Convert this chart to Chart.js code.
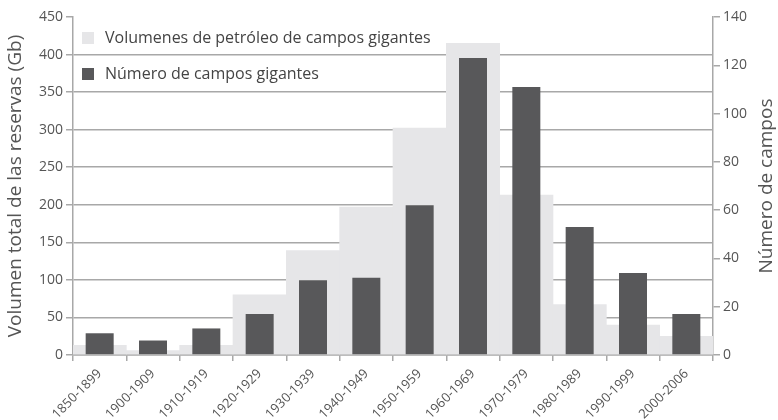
<!DOCTYPE html>
<html>
<head>
<meta charset="utf-8">
<script src="https://cdn.jsdelivr.net/npm/chart.js@4/dist/chart.umd.min.js"></script>
<style>
  body { margin: 0; background: #fff; }
  #wrap { position: relative; width: 778px; height: 420px; }
  #legend { position: absolute; left: 82px; top: 26px; font-family: "Open Sans", sans-serif; font-size: 16px; color: #444; }
  #legend div { height: 36px; line-height: 22px; }
  #legend span.box { display: inline-block; width: 12px; height: 12px; margin-right: 11px; vertical-align: -1px; }
</style>
</head>
<body>
<div id="wrap">
  <canvas id="chart" width="778" height="420"></canvas>
  <div id="legend"></div>
</div>
<script>
var decades = ["1850-1899", "1900-1909", "1910-1919", "1920-1929", "1930-1939", "1940-1949",
               "1950-1959", "1960-1969", "1970-1979", "1980-1989", "1990-1999", "2000-2006"];
// reservas en Gb (eje izquierdo)
var volumen = [13, 6, 13, 80, 139, 197, 302, 415, 213, 67, 40, 25];
// numero de campos gigantes (eje derecho)
var campos = [9, 6, 11, 17, 31, 32, 62, 123, 111, 53, 34, 17];

var volLabel = "Volumenes de petróleo de campos gigantes";
var camposLabel = "Número de campos gigantes";
var rightTitle = "Número de campos";

var light = "#e6e6e8";
var dark = "#58585a";
var axisGrey = "#a8a8a8";
var txt = "#555";

Chart.defaults.font.family = "'Open Sans', sans-serif";

// titulo del eje derecho leido de abajo hacia arriba, como el izquierdo
var rightTitlePlugin = {
  id: 'rightTitle',
  afterDraw: function (chart) {
    var s = chart.scales.y2;
    var ctx = chart.ctx;
    ctx.save();
    ctx.translate(s.right - 11, (s.top + s.bottom) / 2);
    ctx.rotate(-Math.PI / 2);
    ctx.font = "19px 'Open Sans', sans-serif";
    ctx.fillStyle = txt;
    ctx.textAlign = 'center';
    ctx.textBaseline = 'middle';
    ctx.fillText(rightTitle, 0, 0);
    ctx.restore();
  }
};

new Chart(document.getElementById("chart"), {
  type: 'bar',
  data: {
    labels: decades,
    datasets: [
      {
        label: volLabel,
        data: volumen,
        backgroundColor: light,
        yAxisID: 'y',
        grouped: false,
        barPercentage: 1,
        categoryPercentage: 1,
        order: 2
      },
      {
        label: camposLabel,
        data: campos,
        backgroundColor: dark,
        yAxisID: 'y2',
        grouped: false,
        barPercentage: 0.525,
        categoryPercentage: 1,
        order: 1
      }
    ]
  },
  options: {
    responsive: false,
    animation: false,
    layout: { padding: { top: 17, left: 0, right: 0, bottom: 0 } },
    plugins: {
      legend: { display: false },
      tooltip: { enabled: false }
    },
    scales: {
      x: {
        grid: { offset: true, drawOnChartArea: false, tickLength: 6, color: axisGrey, lineWidth: 1.5 },
        border: { color: axisGrey, width: 1.5 },
        ticks: { maxRotation: 45, minRotation: 45, color: txt, font: { size: 13 }, padding: 5 },
        afterFit: function (s) { s.height = 65; }
      },
      y: {
        position: 'left',
        min: 0, max: 450,
        ticks: { stepSize: 50, color: txt, font: { size: 14 }, padding: 3 },
        grid: {
          color: function (c) { return c.tick && c.tick.value === 450 ? 'rgba(0,0,0,0)' : axisGrey; },
          tickColor: axisGrey,
          lineWidth: 1.5,
          tickLength: 7
        },
        border: { color: axisGrey, width: 1.5 },
        title: { display: true, text: "Volumen total de las reservas (Gb)", color: txt, font: { size: 19 }, padding: { top: 4, bottom: 0 } },
        afterFit: function (s) { s.width = 73; }
      },
      y2: {
        position: 'right',
        min: 0, max: 140,
        ticks: { stepSize: 20, color: txt, font: { size: 14 }, padding: 3 },
        grid: { drawOnChartArea: false, color: axisGrey, lineWidth: 1.5, tickLength: 7 },
        border: { color: axisGrey, width: 1.5 },
        afterFit: function (s) { s.width = 65; }
      }
    }
  },
  plugins: [rightTitlePlugin]
});

// leyenda dentro del area del grafico
var leg = document.getElementById("legend");
[[volLabel, light], [camposLabel, dark]].forEach(function (it) {
  var row = document.createElement("div");
  var box = document.createElement("span");
  box.className = "box";
  box.style.background = it[1];
  row.appendChild(box);
  row.appendChild(document.createTextNode(it[0]));
  leg.appendChild(row);
});
</script>
</body>
</html>
